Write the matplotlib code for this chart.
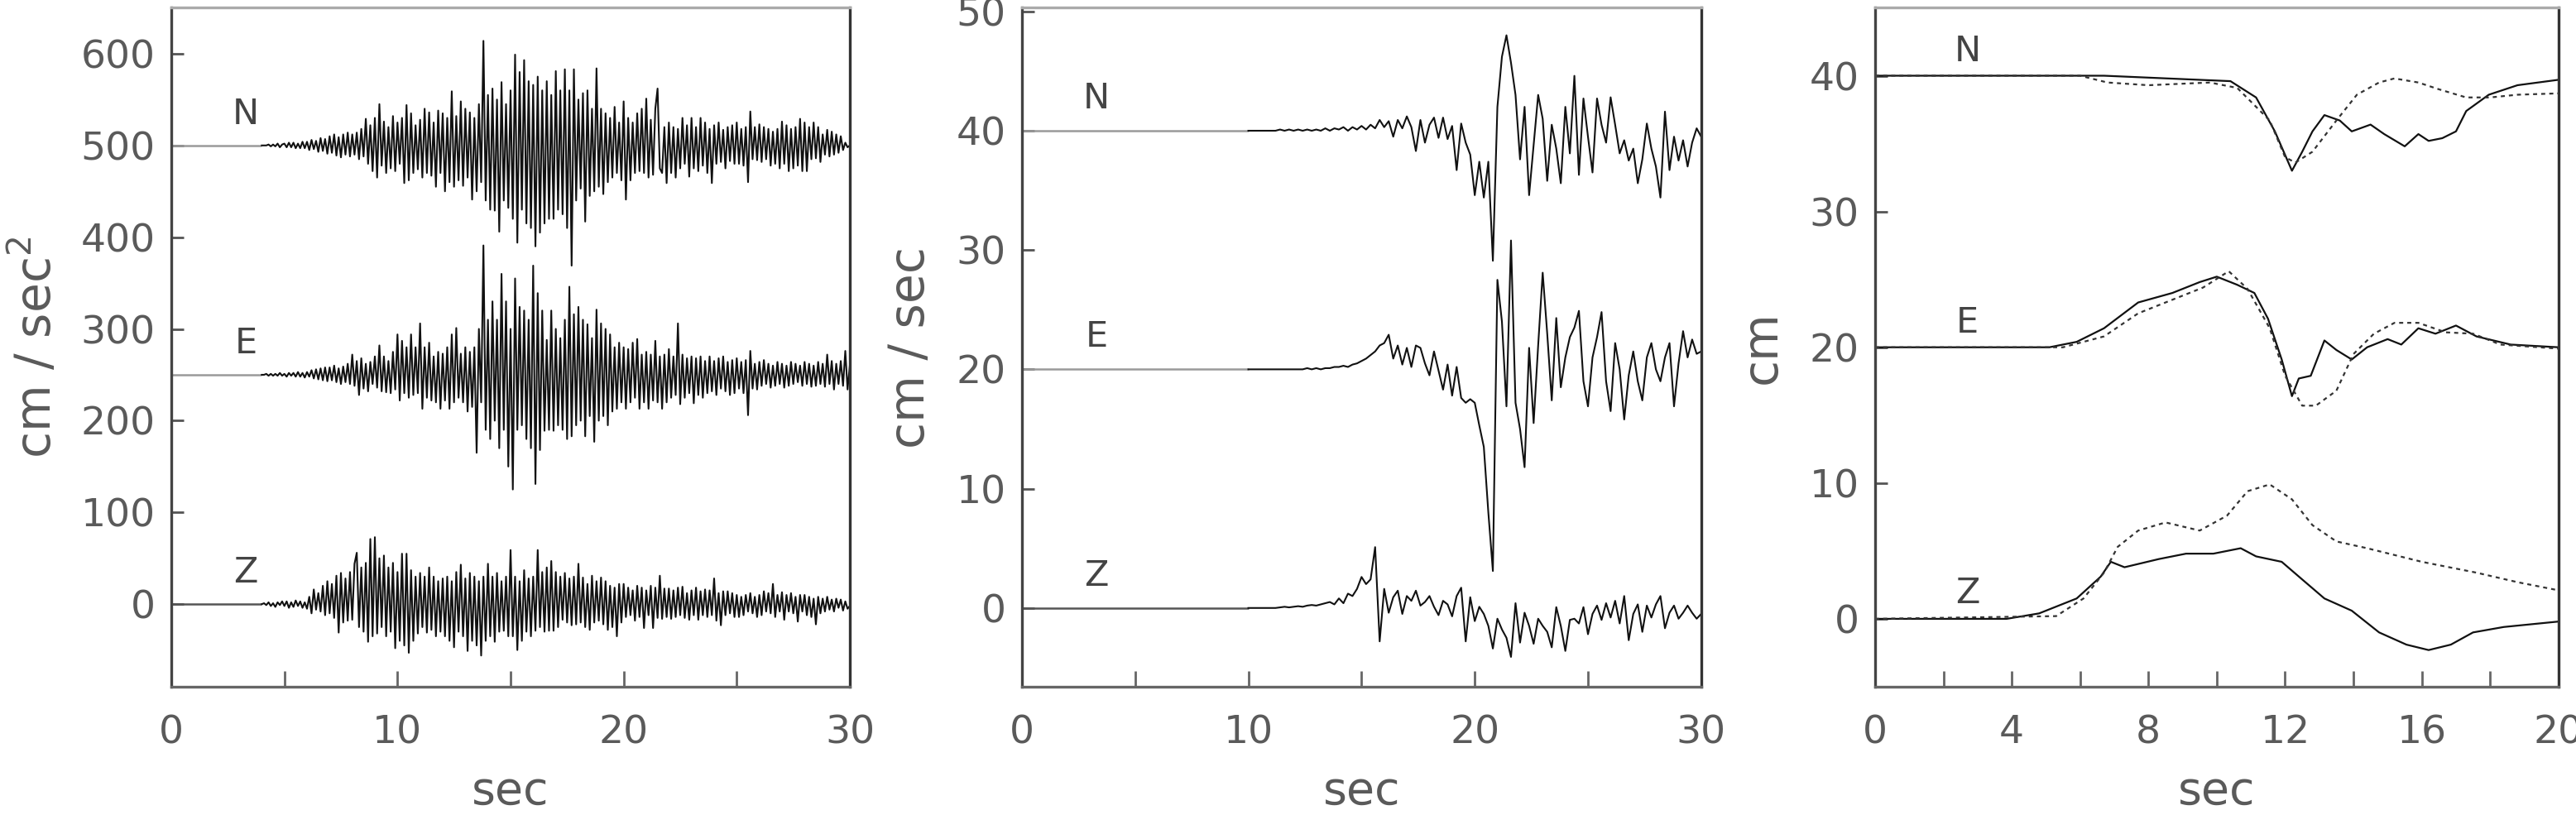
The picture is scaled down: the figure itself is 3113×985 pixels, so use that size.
import matplotlib
matplotlib.use("Agg")
import matplotlib.pyplot as plt
import numpy as np
from matplotlib.ticker import MultipleLocator

plt.rcParams['font.family'] = ['DejaVu Sans']
plt.rcParams['mathtext.fontset'] = 'dejavusans'

components = ["N", "E", "Z"]

# ---- acceleration (cm/sec^2), deviation from trace baseline, dt = 0.1 s from 4.0 s
acc_t0, acc_dt = 4.0, 0.1
acc_offsets = [500, 250, 0]
acc_n = [
    0, 0, 0, 1, -1, 1, -1, 2, -2, 1,
    2, -2, 3, -2, 3, -3, 2, -3, 4, -3,
    4, -5, 6, -4, 5, -7, 8, -6, 7, -9,
    10, -8, 12, -11, 9, -13, 12, -10, 14, -12,
    12, -10, 14, -15, 18, -12, 29, -20, 22, -28,
    30, -35, 45, -22, 26, -30, 20, -25, 32, -28,
    25, -20, 30, -41, 44, -38, 35, -30, 22, -26,
    28, -35, 40, -30, 36, -33, 25, -45, 38, -30,
    35, -50, 30, -40, 59, -45, 32, -38, 48, -44,
    40, -35, 36, -59, 30, -50, 45, -40, 114, -60,
    55, -70, 62, -71, 50, -94, 69, -60, 45, -68,
    60, -80, 99, -106, 80, -70, 93, -85, 70, -90,
    66, -110, 75, -95, 60, -85, 70, -80, 55, -80,
    81, -70, 60, -75, 83, -90, 60, -131, 83, -60,
    50, -47, 57, -83, 60, -55, 40, -50, 84, -45,
    40, -53, 35, -40, 30, -35, 42, -30, 25, -38,
    48, -59, 30, -38, 25, -30, 35, -28, 40, -30,
    51, -35, 28, -32, 40, 62, -25, -30, 20, -41,
    25, -30, 20, -35, 18, -25, 30, -20, 22, -34,
    30, -25, 20, -28, 30, -22, 25, -30, 18, -41,
    22, -20, 25, -18, 17, -25, 20, -17, 22, -20,
    25, -20, 18, -22, 20, -40, 37, -15, 20, -16,
    23, -18, 20, -15, 18, -22, 15, -20, 18, -25,
    26, -20, 22, -28, 18, -25, 20, -22, 29, -28,
    25, -28, 20, -15, 25, -14, 20, -18, 12, -10,
    17, -12, 15, -10, 12, -8, 10, -5, 3, -2,
    0,
]
acc_e = [
    0, 0, 1, -1, 1, -1, 1, -1, 2, -1,
    1, -2, 2, -1, 2, -2, 3, -2, 2, -3,
    3, -2, 5, -4, 6, -5, 7, -6, 8, -7,
    8, -6, 10, -8, 7, -10, 9, -8, 12, -10,
    22, -12, 15, -22, 18, -15, 12, -18, 14, -10,
    20, -14, 32, -18, 20, -19, 15, -20, 25, -16,
    44, -28, 37, -20, 30, -25, 44, -22, 30, -20,
    56, -37, 30, -25, 35, -28, 20, -30, 25, -37,
    23, -28, 30, -37, 44, -30, 51, -25, 23, -30,
    30, -40, 25, -35, 30, -85, 50, -30, 141, -60,
    60, -70, 80, -50, 60, -80, 110, -60, 80, -100,
    50, -125, 105, -60, 74, -55, 70, -70, 60, -80,
    119, -119, 89, -82, 70, -61, 38, -60, 70, -61,
    50, -55, 40, -60, 60, -70, 96, -67, 66, -55,
    74, -50, 60, -67, 55, -45, 40, -73, 71, -50,
    56, -45, 50, -55, 44, -40, 30, -37, 35, -30,
    30, -37, 28, -30, 35, -25, 39, -37, 22, -30,
    25, -37, 22, -28, 37, -30, 20, -37, 22, -30,
    28, -25, 20, -22, 56, -32, 22, -25, 18, -20,
    20, -31, 18, -22, 20, -25, 15, -20, 20, -18,
    15, -22, 18, -15, 20, -18, 14, -22, 16, -20,
    18, -15, 14, -20, 16, -44, 26, -15, 12, -16,
    14, -12, 16, -10, 12, -14, 10, -12, 14, -10,
    12, -14, 10, -12, 14, -10, 12, -8, 10, -12,
    14, -10, 12, -13, 10, -12, 14, -10, 12, -13,
    22, -10, 15, -16, 12, -10, 15, -12, 26, -16,
    10,
]
acc_z = [
    0, 1, -1, 2, -2, 1, -3, 2, -1, 3,
    -2, 3, -4, 2, -3, 4, -2, 3, -4, 2,
    -5, 8, -10, 16, -6, 12, -8, 20, -12, 25,
    -10, 22, -15, 31, -31, 34, -20, 28, -18, 35,
    -17, 44, 56, -25, 40, -30, 45, -41, 71, -35,
    73, -32, 50, -25, 53, -35, 40, -30, 45, -48,
    35, -40, 55, -45, 55, -53, 37, -40, 30, -32,
    34, -25, 30, -31, 40, -28, 30, -35, 25, -30,
    28, -35, 30, -40, 25, -47, 35, -30, 43, -35,
    28, -51, 34, -40, 30, -45, 25, -56, 30, -40,
    44, -35, 30, -41, 34, -30, 25, -29, 30, -35,
    59, -35, 30, -50, 25, -40, 37, -30, 28, -35,
    30, -29, 59, -25, 35, -30, 40, -29, 47, -29,
    35, -25, 30, -17, 34, -20, 28, -23, 30, -22,
    44, -20, 29, -25, 22, -28, 31, -20, 25, -18,
    29, -22, 25, -28, 20, -25, 18, -35, 22, -20,
    22, -14, 18, -12, 15, -18, 20, -14, 18, -26,
    15, -12, 20, -26, 18, -15, 31, -16, 17, -14,
    17, -16, 15, -14, 18, -12, 19, -15, 12, -17,
    15, -12, 18, -17, 14, -12, 16, -14, 15, -12,
    28, -18, 12, -23, 14, -12, 14, -10, 12, -14,
    10, -14, 8, -12, 10, -8, 12, -10, 8, -14,
    10, -12, 14, -8, 12, -10, 22, -14, 10, -8,
    13, -17, 10, -8, 12, -10, 8, -19, 10, -8,
    10, -12, 8, -14, 6, -22, 8, -10, 6, -8,
    8, -6, 5, -8, 6, -4, 5, -7, 3, -5,
    -2,
]

# ---- velocity (cm/sec), deviation from baseline, dt = 0.2 s from 10.0 s
vel_t0, vel_dt = 10.0, 0.2
vel_offsets = [40, 20, 0]
vel_n = [
    0, 0, 0, 0, 0,
    0, 0, 0.1, 0, 0.1,
    0, 0.1, 0, 0.1, 0,
    0.1, 0, 0.2, 0, 0.2,
    0.1, 0.3, 0, 0.3, 0.1,
    0.4, 0.1, 0.5, 0.2, 0.9,
    0.3, 0.8, -0.5, 0.9, 0.2,
    1.2, 0.3, -1.7, 0.9, -1.0,
    0.5, 1.1, -0.6, 1.1, -0.7,
    0.4, -3.3, 0.6, -1.0, -2.0,
    -5.4, -2.6, -5.6, -2.6, -10.9,
    2.0, 6.2, 8.0, 5.7, 3.0,
    -2.4, 2.0, -5.4, -1.2, 3.0,
    1.0, -4.2, 0.5, -1.5, -4.4,
    2.0, -1.9, 4.6, -3.7, 2.7,
    -0.5, -3.5, 2.7, 0.5, -1.0,
    2.8, 0.5, -1.9, -0.8, -2.5,
    -1.5, -4.4, -2.4, 0.6, -1.5,
    -3.0, -5.6, 1.6, -3.3, -0.5,
    -2.5, -0.8, -3.0, -1.0, 0.2,
    -0.5,
]
vel_e = [
    0, 0, 0, 0, 0,
    0, 0, 0, 0, 0,
    0, 0, 0, 0.1, 0,
    0.1, 0, 0.1, 0.1, 0.2,
    0.2, 0.3, 0.2, 0.4, 0.5,
    0.7, 0.9, 1.2, 1.5, 2.0,
    2.2, 2.9, 0.9, 2.0, 0.4,
    1.8, 0.2, 2.0, 1.8, 0.5,
    -0.5, 1.5, -0.1, -1.7, 0.4,
    -2.2, 0.2, -2.4, -2.8, -2.5,
    -2.8, -4.7, -6.5, -12.0, -16.9,
    7.5, 4.0, -3.1, 10.8, -2.8,
    -5.0, -8.2, 1.8, -4.5, 2.0,
    8.1, 3.0, -2.6, 4.3, -1.5,
    1.0, 2.7, 3.5, 4.9, -1.0,
    -3.1, 1.0, 2.7, 4.8, -1.0,
    -3.5, 2.2, 0.0, -4.2, -0.5,
    1.5, -1.0, -2.6, 1.0, 2.2,
    0.0, -1.0, 1.0, 2.2, -3.1,
    0.5, 3.2, 1.0, 2.5, 1.3,
    1.5,
]
vel_z = [
    0, 0, 0, 0, 0,
    0, 0, 0.05, 0.1, 0.05,
    0.1, 0.15, 0.1, 0.2, 0.25,
    0.2, 0.3, 0.4, 0.5, 0.3,
    0.8, 0.4, 1.2, 1.0, 1.6,
    2.6, 2.0, 2.4, 5.1, -2.8,
    1.6, -0.4, 0.9, 1.45, -0.5,
    1.0, 0.6, 1.45, 0.2, 0.5,
    1.0, 0.1, -0.6, 0.6, 0.3,
    -0.7, 1.0, 1.7, -2.8, 0.9,
    -1.1, 0.1, -0.5, -1.5, -3.4,
    -0.9, -1.8, -2.5, -4.1, 0.4,
    -2.9, -0.4, -1.5, -3.0, -0.9,
    -1.5, -2.0, -3.3, 0.07, -1.5,
    -3.6, -1.0, -0.9, -1.3, 0.07,
    -2.2, -0.5, 0.2, -1.0, 0.4,
    -0.8, 0.6, -1.3, 1.0, -2.7,
    -0.5, 0.3, -2.0, 0.2, -0.8,
    0.3, 1.0, -1.7, -0.4, 0.2,
    -0.9, -0.4, 0.2, -0.4, -0.9,
    -0.5,
]

# ---- displacement (cm), absolute values; solid and dashed curves
dis_n_t = [0, 6.7, 10.4, 11.15, 11.7, 12.2, 12.5, 12.8, 13.15, 13.6, 13.95, 14.5, 14.9,
           15.5, 15.9, 16.2, 16.6, 17.0, 17.3, 17.96, 18.8, 20]
dis_n = [40, 40, 39.6, 38.4, 35.9, 33.0, 34.4, 35.9, 37.1, 36.7, 35.9, 36.4, 35.7,
         34.8, 35.7, 35.2, 35.4, 35.9, 37.4, 38.6, 39.3, 39.7]
dis_n2_t = [0, 6.0, 6.8, 8.0, 9.8, 10.6, 11.55, 12.0, 12.3, 12.8, 13.5, 14.1, 14.75, 15.2,
            15.9, 16.5, 17.3, 18.0, 18.8, 20]
dis_n2 = [40, 40, 39.5, 39.3, 39.5, 39.1, 36.7, 34.0, 33.6, 34.4, 36.7, 38.6, 39.5, 39.8,
          39.5, 39.0, 38.4, 38.4, 38.6, 38.7]

dis_e_t = [0, 5.1, 5.9, 6.7, 7.7, 8.7, 9.5, 10.0, 10.6, 11.1, 11.5, 11.9, 12.2, 12.4, 12.75,
           13.15, 13.5, 13.95, 14.4, 15.0, 15.4, 15.9, 16.4, 17.0, 17.6, 18.6, 20]
dis_e = [20, 20, 20.4, 21.4, 23.3, 24.0, 24.8, 25.2, 24.6, 24.0, 22.1, 19.1, 16.4, 17.7, 17.9,
         20.5, 19.8, 19.1, 20.0, 20.6, 20.2, 21.4, 21.0, 21.6, 20.8, 20.2, 20.0]
dis_e2_t = [0, 5.5, 6.7, 7.7, 8.7, 9.6, 10.35, 10.9, 11.55, 12.0, 12.5, 12.9, 13.5, 14.0,
            14.6, 15.2, 15.9, 16.7, 17.5, 18.3, 20]
dis_e2 = [20, 20, 20.8, 22.5, 23.5, 24.4, 25.6, 24.3, 21.4, 17.9, 15.7, 15.7, 16.8, 19.5,
          21.0, 21.8, 21.8, 21.1, 21.0, 20.2, 19.9]

dis_z_t = [0, 3.85, 4.8, 5.9, 6.6, 6.9, 7.3, 8.3, 9.1, 9.9, 10.7, 11.15, 11.9, 12.5, 13.15,
           13.95, 14.75, 15.55, 16.2, 16.85, 17.5, 18.4, 20]
dis_z = [0, 0, 0.4, 1.5, 3.1, 4.2, 3.8, 4.4, 4.8, 4.8, 5.2, 4.6, 4.2, 2.9, 1.5,
         0.6, -1.0, -1.9, -2.3, -1.9, -1.0, -0.6, -0.2]
dis_z2_t = [0, 5.3, 6.1, 6.7, 7.1, 7.7, 8.5, 9.5, 10.3, 10.9, 11.55, 12.2, 12.8, 13.5,
            14.4, 16.0, 17.6, 18.8, 20]
dis_z2 = [0, 0.2, 1.5, 3.4, 5.3, 6.5, 7.1, 6.5, 7.6, 9.4, 9.9, 8.8, 6.9, 5.7,
          5.2, 4.2, 3.4, 2.7, 2.1]

label_color = '#5a5a5a'
trace_color = '#111111'
pre_colors = ['#9a9a9a', '#9a9a9a', '#555555']


def style_axes(ax, xmax, xmajor, xminor, ylim, ystep, ylabel, ylab_x):
    ax.set_xlim(0, xmax)
    ax.set_ylim(*ylim)
    ax.xaxis.set_major_locator(MultipleLocator(xmajor))
    ax.xaxis.set_minor_locator(MultipleLocator(xminor))
    ax.yaxis.set_major_locator(MultipleLocator(ystep))
    ax.tick_params(axis='x', which='both', direction='in', length=14, width=2,
                   color='#666666', labelsize=34, labelcolor=label_color, pad=24)
    ax.tick_params(axis='y', which='major', direction='in', length=11, width=2,
                   color='#555555', labelsize=34, labelcolor=label_color, pad=14)
    ax.spines['left'].set_color('#444444')
    ax.spines['bottom'].set_color('#666666')
    ax.spines['top'].set_color('#aaaaaa')
    ax.spines['right'].set_color('#333333')
    for s in ax.spines.values():
        s.set_linewidth(2.4)
    ax.set_xlabel('sec', fontsize=40, color=label_color, va='center')
    ax.xaxis.set_label_coords(0.5, -0.155)
    ax.set_ylabel(ylabel, fontsize=42, color=label_color, va='center')
    ax.yaxis.set_label_coords(ylab_x, 0.5)


def plot_traces(ax, t0, dt, traces, offsets, lab_x, lab_dy):
    for i, (dev, off) in enumerate(zip(traces, offsets)):
        dev = np.asarray(dev, dtype=float)
        t = t0 + dt * np.arange(len(dev))
        ax.plot([0, t0], [off, off], color=pre_colors[i], lw=1.8, solid_capstyle='butt')
        ax.plot(t, dev + off, color=trace_color, lw=1.5)
        ax.text(lab_x, off + lab_dy, components[i], fontsize=31, color='#444444',
                ha='center', va='center')


fig = plt.figure(figsize=(31.13, 9.85), dpi=100)
ax1 = fig.add_axes([0.0665, 0.1574, 0.2634, 0.8330])
ax2 = fig.add_axes([0.3967, 0.1574, 0.2637, 0.8330])
ax3 = fig.add_axes([0.7279, 0.1574, 0.2653, 0.8330])

plot_traces(ax1, acc_t0, acc_dt, [acc_n, acc_e, acc_z], acc_offsets, 3.3, 34)
style_axes(ax1, 30, 10, 5, (-90, 650), 100, 'cm / sec$^2$', -0.200)

plot_traces(ax2, vel_t0, vel_dt, [vel_n, vel_e, vel_z], vel_offsets, 3.3, 2.7)
style_axes(ax2, 30, 10, 5, (-6.6, 50.3), 10, 'cm / sec', -0.164)

for (ts, vs), (t2, v2) in zip([(dis_n_t, dis_n), (dis_e_t, dis_e), (dis_z_t, dis_z)],
                              [(dis_n2_t, dis_n2), (dis_e2_t, dis_e2), (dis_z2_t, dis_z2)]):
    ax3.plot(ts, vs, color=trace_color, lw=1.6)
    ax3.plot(t2, v2, color='#333333', lw=1.6, linestyle=(0, (2.2, 2.2)))
for name, yv in zip(components, [41.8, 21.8, 1.9]):
    ax3.text(2.7, yv, name, fontsize=31, color='#444444', ha='center', va='center')
style_axes(ax3, 20, 4, 2, (-5, 45), 10, 'cm', -0.165)

fig.savefig('out.png', dpi=100)
